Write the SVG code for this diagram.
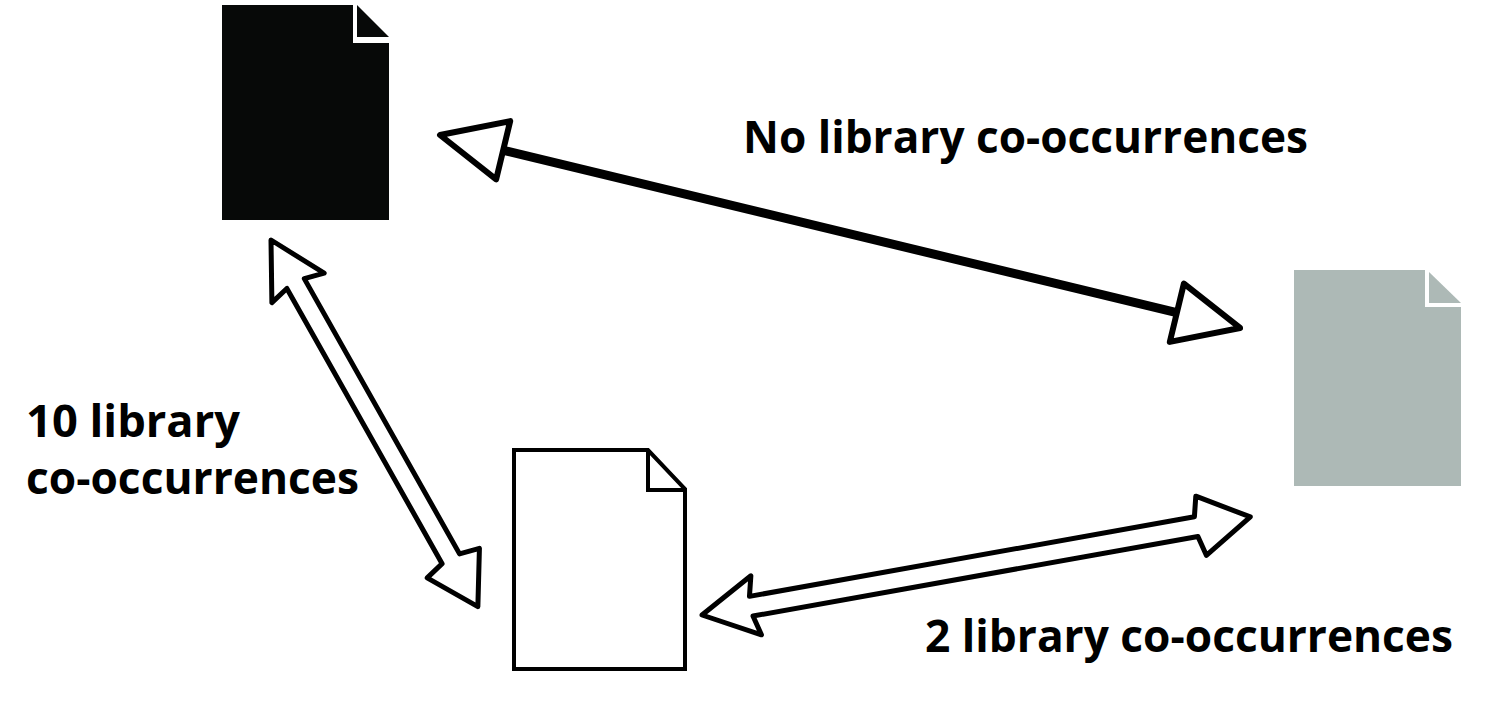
<svg xmlns="http://www.w3.org/2000/svg" width="1501" height="709" viewBox="0 0 1501 709">
<style>
text{font-family:"Open Sans","Liberation Sans",sans-serif;font-weight:bold;font-size:44px;fill:#000}
.ha{fill:#fff;stroke:#000;stroke-width:5;stroke-linejoin:round}
.tri{fill:#fff;stroke:#000;stroke-width:6;stroke-linejoin:round}
</style>
<rect width="1501" height="709" fill="#fff"/>
<g id="doc-black">
<path d="M222 5 H353 V43 H389 V220 H222 Z" fill="#070908"/>
<path d="M357 5 L389 37 H357 Z" fill="#070908"/>
</g>
<g id="doc-gray">
<path d="M1294 270 H1425 V307 H1461 V486 H1294 Z" fill="#adb9b6"/>
<path d="M1429 272 L1461 303 H1429 Z" fill="#adb9b6"/>
</g>
<g id="doc-white">
<path d="M514 450 H648 L685 489 V669 H514 Z" fill="#fff" stroke="#000" stroke-width="4"/>
<path d="M648 450 V490 H685" fill="none" stroke="#000" stroke-width="4"/>
</g>
<g id="connectors">
<g transform="translate(440,135) rotate(13.56)">
<line x1="62" y1="0" x2="761" y2="0" stroke="#000" stroke-width="9"/>
<polygon class="tri" points="0,0 65,-30 65,30"/>
<polygon class="tri" points="823,0 758,-30 758,30"/>
</g>
<g transform="translate(271,240) rotate(60.57)">
<polygon class="ha" points="0,0 55,-30 50,-10 366,-10 371,-30 421,0 371,30 366,10 50,10 55,30"/>
</g>
<g transform="translate(702,615) rotate(-10.14)">
<polygon class="ha" points="0,0 55,-30 50,-10 502,-10 507,-30 557,0 507,30 502,10 50,10 55,30"/>
</g>
</g>
<g id="labels">
<text x="743" y="153" textLength="565" lengthAdjust="spacingAndGlyphs">No library co-occurrences</text>
<text x="26" y="437" textLength="214" lengthAdjust="spacingAndGlyphs">10 library</text>
<text x="26" y="494" textLength="333" lengthAdjust="spacingAndGlyphs">co-occurrences</text>
<text x="925" y="652" textLength="528" lengthAdjust="spacingAndGlyphs">2 library co-occurrences</text>
</g>
</svg>
